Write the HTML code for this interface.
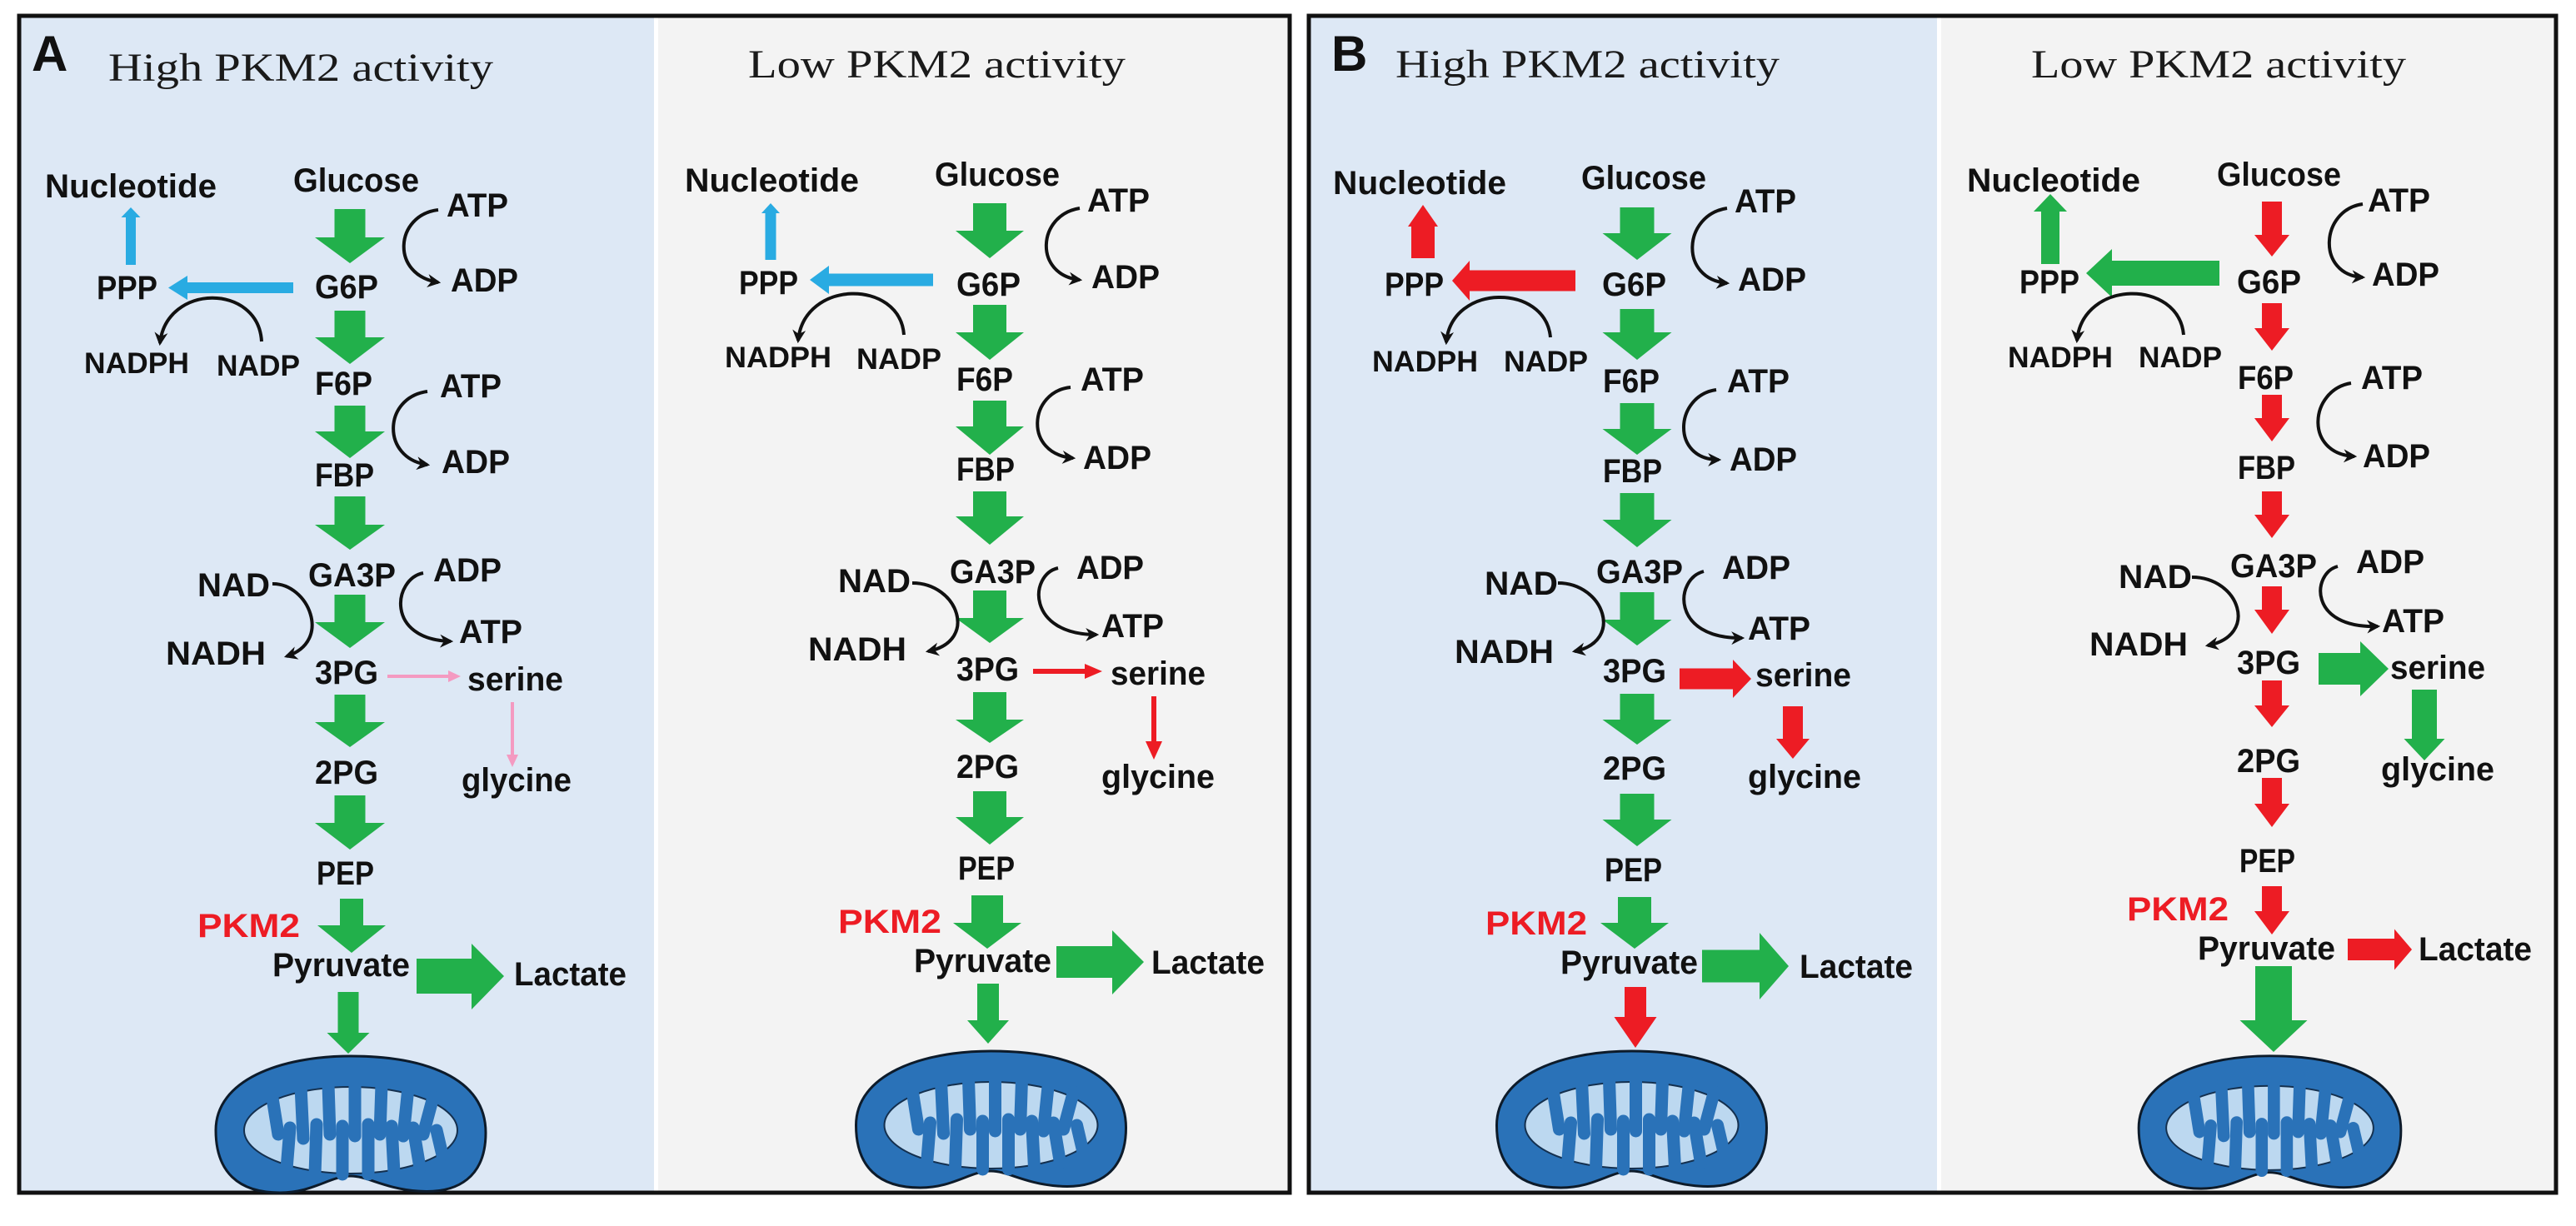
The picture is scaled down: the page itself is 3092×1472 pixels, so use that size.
<!DOCTYPE html>
<html><head><meta charset="utf-8"><style>html,body{margin:0;padding:0;background:#fff}svg{display:block}</style></head>
<body>
<svg xmlns="http://www.w3.org/2000/svg" width="3092" height="1472" viewBox="0 0 3092 1472">
<defs>
<marker id="ah" viewBox="0 0 10 10" refX="8" refY="5" markerWidth="4" markerHeight="4" orient="auto" markerUnits="strokeWidth"><path d="M0,0 L10,5 L0,10 L3,5 Z" fill="#111"/></marker>
<symbol id="mito" viewBox="0 0 330 175">
<path d="M3,95 C3,35 80,6 165,6 C250,6 327,30 327,98 C327,150 295,172 245,168 C205,165 185,150 165,150 C140,150 120,170 80,170 C30,170 3,145 3,95 Z" fill="#2a72b8" stroke="#0d1b2a" stroke-width="3"/>
<ellipse cx="165" cy="95" rx="128" ry="52" fill="#bcd8f0" stroke="#14304f" stroke-width="2"/>
<g stroke="#2a72b8" stroke-width="15" stroke-linecap="round">
<line x1="70" y1="50" x2="78" y2="100"/><line x1="105" y1="42" x2="108" y2="105"/><line x1="138" y1="40" x2="140" y2="100"/><line x1="170" y1="40" x2="170" y2="102"/><line x1="202" y1="40" x2="200" y2="100"/><line x1="234" y1="44" x2="228" y2="102"/><line x1="264" y1="55" x2="252" y2="100"/>
<line x1="88" y1="142" x2="92" y2="92"/><line x1="122" y1="148" x2="124" y2="88"/><line x1="155" y1="148" x2="155" y2="90"/><line x1="186" y1="148" x2="186" y2="88"/><line x1="217" y1="146" x2="214" y2="90"/><line x1="248" y1="140" x2="240" y2="92"/><line x1="275" y1="125" x2="268" y2="95"/>
</g>
</symbol>
</defs>

<rect x="25" y="21" width="760" height="1409" fill="#dde8f5"/>
<rect x="790" y="21" width="756" height="1409" fill="#f3f3f3"/>
<rect x="23" y="19" width="1525" height="1413" fill="none" stroke="#111" stroke-width="5"/>
<rect x="1573" y="21" width="752" height="1409" fill="#dde8f5"/>
<rect x="2330" y="21" width="736" height="1409" fill="#f3f3f3"/>
<rect x="1571" y="19" width="1497" height="1413" fill="none" stroke="#111" stroke-width="5"/>

<g font-family="Liberation Sans, Arial, sans-serif" font-weight="bold" fill="#111">
<text x="38" y="85" font-size="60">A</text>
<text x="1598" y="85" font-size="60">B</text>
</g>
<g font-family="Liberation Serif, serif" fill="#1a1a1a" font-size="48">
<text x="130" y="97" textLength="462" lengthAdjust="spacingAndGlyphs">High PKM2 activity</text>
<text x="898" y="93" textLength="453" lengthAdjust="spacingAndGlyphs">Low PKM2 activity</text>
<text x="1675" y="93" textLength="461" lengthAdjust="spacingAndGlyphs">High PKM2 activity</text>
<text x="2438" y="93" textLength="450" lengthAdjust="spacingAndGlyphs">Low PKM2 activity</text>
</g>

<use href="#mito" x="256" y="1262" width="330" height="175"/>
<use href="#mito" x="1023" y="1256" width="333" height="175"/>
<use href="#mito" x="1793" y="1256" width="331" height="175"/>
<use href="#mito" x="2559" y="1262" width="331" height="170"/>

<!-- A-left -->
<g fill="#22b04b">
<polygon points="401.5,251 438.5,251 438.5,285 462,285 420,316 378,285 401.5,285"/>
<polygon points="401.5,373 438.5,373 438.5,405 462,405 420,437 378,405 401.5,405"/>
<polygon points="401.5,487 438.5,487 438.5,518 462,518 420,550 378,518 401.5,518"/>
<polygon points="401.5,596 438.5,596 438.5,630 462,630 420,660 378,630 401.5,630"/>
<polygon points="401.5,714 438.5,714 438.5,747 462,747 420,778 378,747 401.5,747"/>
<polygon points="401.5,834 438.5,834 438.5,867 462,867 420,897 378,867 401.5,867"/>
<polygon points="401.5,955 438.5,955 438.5,988 462,988 420,1020 378,988 401.5,988"/>
<polygon points="408,1079 436,1079 436,1111 463,1111 422,1144 381,1111 408,1111"/>
<polygon points="405.5,1191 430.5,1191 430.5,1240 443.5,1240 418,1265 392.5,1240 405.5,1240"/>
<polygon points="500,1151 566,1151 566,1133 605,1172 566,1212 566,1193 500,1193"/>
</g>
<g fill="#29abe2">
<polygon points="352,339 225,339 225,331 202,345.5 225,360 225,352 352,352"/>
<polygon points="151,318 163,318 163,261 168.5,261 157,249 145.5,261 151,261"/>
</g>
<g stroke="#f49ac1" stroke-width="4" fill="#f49ac1">
<line x1="465" y1="812" x2="540" y2="812"/><polygon points="538,805 553,812 538,819" stroke="none"/>
<line x1="615" y1="843" x2="615" y2="908"/><polygon points="608,906 615,921 622,906" stroke="none"/>
</g>

<!-- A-right -->
<g fill="#22b04b">
<polygon points="1168,244 1208,244 1208,277 1229,277 1188,310 1147,277 1168,277"/>
<polygon points="1168,366 1208,366 1208,399 1229,399 1188,432 1147,399 1168,399"/>
<polygon points="1168,481 1208,481 1208,512 1229,512 1188,546 1147,512 1168,512"/>
<polygon points="1168,590 1208,590 1208,620 1229,620 1188,654 1147,620 1168,620"/>
<polygon points="1168,709 1208,709 1208,742 1229,742 1188,772 1147,742 1168,742"/>
<polygon points="1168,831 1208,831 1208,864 1229,864 1188,892 1147,864 1168,864"/>
<polygon points="1168,950 1208,950 1208,981 1229,981 1188,1014 1147,981 1168,981"/>
<polygon points="1166,1075 1204,1075 1204,1108 1226,1108 1185,1139 1144,1108 1166,1108"/>
<polygon points="1173,1181 1199,1181 1199,1225 1211,1225 1186,1253 1161,1225 1173,1225"/>
<polygon points="1268,1136 1335,1136 1335,1117 1373,1155 1335,1194 1335,1174 1268,1174"/>
</g>
<g fill="#29abe2">
<polygon points="1120,328.5 995,328.5 995,319 972,336 995,353 995,343.5 1120,343.5"/>
<polygon points="918.5,312 931.5,312 931.5,256 936,256 925,244 914,256 918.5,256"/>
</g>
<g fill="#ed1c24">
<polygon points="1240,803 1302,803 1302,797 1323,806 1302,815 1302,809 1240,809"/>
<polygon points="1382,836 1388,836 1388,890 1395,890 1385,912 1375,890 1382,890"/>
</g>

<!-- B-left -->
<g fill="#22b04b">
<polygon points="1944.5,249 1985.5,249 1985.5,280 2006.5,280 1965,312 1923.5,280 1944.5,280"/>
<polygon points="1944.5,371 1985.5,371 1985.5,399 2006.5,399 1965,432 1923.5,399 1944.5,399"/>
<polygon points="1944.5,484 1985.5,484 1985.5,515 2006.5,515 1965,546 1923.5,515 1944.5,515"/>
<polygon points="1944.5,592 1985.5,592 1985.5,624 2006.5,624 1965,657 1923.5,624 1944.5,624"/>
<polygon points="1944.5,711 1985.5,711 1985.5,744 2006.5,744 1965,775 1923.5,744 1944.5,744"/>
<polygon points="1944.5,833 1985.5,833 1985.5,864 2006.5,864 1965,894 1923.5,864 1944.5,864"/>
<polygon points="1944.5,953 1985.5,953 1985.5,984 2006.5,984 1965,1016 1923.5,984 1944.5,984"/>
<polygon points="1942,1077 1982,1077 1982,1108 2003,1108 1962,1139 1921,1108 1942,1108"/>
<polygon points="2043,1140.5 2112,1140.5 2112,1120 2147,1160 2112,1200 2112,1179.5 2043,1179.5"/>
</g>
<g fill="#ed1c24">
<polygon points="1891,324.5 1764,324.5 1764,313 1743,337 1764,361 1764,349.5 1891,349.5"/>
<polygon points="1694,310 1722,310 1722,272 1726,272 1708,246 1690,272 1694,272"/>
<polygon points="2016,802.5 2080,802.5 2080,792 2102,815 2080,838 2080,827.5 2016,827.5"/>
<polygon points="2140,848 2164,848 2164,887 2172,887 2152,911 2132,887 2140,887"/>
<polygon points="1950,1185 1976,1185 1976,1221 1988.5,1221 1963,1258 1937.5,1221 1950,1221"/>
</g>

<!-- B-right -->
<g fill="#ed1c24">
<polygon points="2715,242 2739,242 2739,282 2748,282 2727,308 2706,282 2715,282"/>
<polygon points="2715,364 2739,364 2739,394 2748,394 2727,421 2706,394 2715,394"/>
<polygon points="2715,474 2739,474 2739,502 2748,502 2727,530 2706,502 2715,502"/>
<polygon points="2715,590 2739,590 2739,618 2748,618 2727,646 2706,618 2715,618"/>
<polygon points="2715,704 2739,704 2739,732 2748,732 2727,761 2706,732 2715,732"/>
<polygon points="2715,817 2739,817 2739,847 2748,847 2727,873 2706,847 2715,847"/>
<polygon points="2715,934 2739,934 2739,965 2748,965 2727,993 2706,965 2715,965"/>
<polygon points="2715,1064 2739,1064 2739,1094 2748,1094 2727,1122 2706,1094 2715,1094"/>
<polygon points="2818,1127 2874,1127 2874,1115.5 2895,1140 2874,1164.5 2874,1153 2818,1153"/>
</g>
<g fill="#22b04b">
<polygon points="2664,313 2535,313 2535,299 2504,328 2535,357 2535,343 2664,343"/>
<polygon points="2450,317 2472,317 2472,254 2481,254 2461,233 2441,254 2450,254"/>
<polygon points="2783,784 2833,784 2833,770 2867,803 2833,836 2833,822 2783,822"/>
<polygon points="2895,828 2925,828 2925,887 2934.5,887 2910,913 2885.5,887 2895,887"/>
<polygon points="2707,1160 2751,1160 2751,1225 2769.5,1225 2729,1263 2688.5,1225 2707,1225"/>
</g>

<g fill="none" stroke="#111" stroke-width="4" marker-end="url(#ah)">
<path d="M526,252 C474,258 468,330 526,339"/>
<path d="M513,470 C460,477 457,550 513,558"/>
<path d="M508,688 C472,695 462,768 541,770"/>
<path d="M327,701 C370,700 400,770 344,788"/>
<path d="M314,410 C310,340 200,340 192,412"/>

<path d="M1296,250 C1245,258 1240,330 1296,336"/>
<path d="M1285,465 C1235,470 1228,545 1288,550"/>
<path d="M1270,682 C1235,690 1232,762 1316,762"/>
<path d="M1095,700 C1150,700 1175,770 1114,782"/>
<path d="M1085,402 C1080,335 965,335 958,409"/>

<path d="M2073,250 C2020,258 2015,335 2073,340"/>
<path d="M2060,468 C2010,475 2005,552 2063,552"/>
<path d="M2045,686 C2010,695 2005,767 2091,766"/>
<path d="M1870,700 C1925,700 1950,770 1890,782"/>
<path d="M1861,405 C1855,340 1742,340 1736,411"/>

<path d="M2836,245 C2785,252 2780,330 2836,333"/>
<path d="M2822,460 C2772,468 2765,545 2826,548"/>
<path d="M2806,680 C2775,688 2770,755 2854,752"/>
<path d="M2631,693 C2688,693 2712,763 2650,775"/>
<path d="M2621,402 C2615,335 2500,335 2493,409"/>
</g>

<g font-family="Liberation Sans, Arial, sans-serif" font-weight="bold" font-size="40" fill="#111">
<!-- A-left -->
<text x="54" y="237" textLength="206" lengthAdjust="spacingAndGlyphs">Nucleotide</text>
<text x="352" y="230" textLength="151" lengthAdjust="spacingAndGlyphs">Glucose</text>
<text x="536" y="260" textLength="74" lengthAdjust="spacingAndGlyphs">ATP</text>
<text x="541" y="350" textLength="81" lengthAdjust="spacingAndGlyphs">ADP</text>
<text x="378" y="358" textLength="76" lengthAdjust="spacingAndGlyphs">G6P</text>
<text x="116" y="359" textLength="73" lengthAdjust="spacingAndGlyphs">PPP</text>
<text x="101" y="448" font-size="35" textLength="126" lengthAdjust="spacingAndGlyphs">NADPH</text>
<text x="260" y="451" font-size="35" textLength="100" lengthAdjust="spacingAndGlyphs">NADP</text>
<text x="378" y="474" textLength="69" lengthAdjust="spacingAndGlyphs">F6P</text>
<text x="528" y="477" textLength="74" lengthAdjust="spacingAndGlyphs">ATP</text>
<text x="530" y="568" textLength="82" lengthAdjust="spacingAndGlyphs">ADP</text>
<text x="378" y="584" textLength="71" lengthAdjust="spacingAndGlyphs">FBP</text>
<text x="370" y="704" textLength="105" lengthAdjust="spacingAndGlyphs">GA3P</text>
<text x="237" y="716" textLength="87" lengthAdjust="spacingAndGlyphs">NAD</text>
<text x="520" y="698" textLength="82" lengthAdjust="spacingAndGlyphs">ADP</text>
<text x="551" y="772" textLength="76" lengthAdjust="spacingAndGlyphs">ATP</text>
<text x="199" y="798" textLength="120" lengthAdjust="spacingAndGlyphs">NADH</text>
<text x="378" y="821" textLength="76" lengthAdjust="spacingAndGlyphs">3PG</text>
<text x="561" y="829" textLength="115" lengthAdjust="spacingAndGlyphs">serine</text>
<text x="554" y="950" textLength="132" lengthAdjust="spacingAndGlyphs">glycine</text>
<text x="378" y="941" textLength="76" lengthAdjust="spacingAndGlyphs">2PG</text>
<text x="380" y="1062" textLength="69" lengthAdjust="spacingAndGlyphs">PEP</text>
<text x="237" y="1125" fill="#ed1c24" textLength="123" lengthAdjust="spacingAndGlyphs">PKM2</text>
<text x="327" y="1172" textLength="165" lengthAdjust="spacingAndGlyphs">Pyruvate</text>
<text x="617" y="1183" textLength="135" lengthAdjust="spacingAndGlyphs">Lactate</text>

<!-- A-right -->
<text x="822" y="230" textLength="209" lengthAdjust="spacingAndGlyphs">Nucleotide</text>
<text x="1122" y="223" textLength="150" lengthAdjust="spacingAndGlyphs">Glucose</text>
<text x="1305" y="254" textLength="75" lengthAdjust="spacingAndGlyphs">ATP</text>
<text x="1310" y="346" textLength="82" lengthAdjust="spacingAndGlyphs">ADP</text>
<text x="1148" y="355" textLength="77" lengthAdjust="spacingAndGlyphs">G6P</text>
<text x="887" y="353" textLength="71" lengthAdjust="spacingAndGlyphs">PPP</text>
<text x="870" y="441" font-size="35" textLength="128" lengthAdjust="spacingAndGlyphs">NADPH</text>
<text x="1028" y="443" font-size="35" textLength="102" lengthAdjust="spacingAndGlyphs">NADP</text>
<text x="1148" y="469" textLength="68" lengthAdjust="spacingAndGlyphs">F6P</text>
<text x="1297" y="469" textLength="76" lengthAdjust="spacingAndGlyphs">ATP</text>
<text x="1300" y="563" textLength="82" lengthAdjust="spacingAndGlyphs">ADP</text>
<text x="1148" y="577" textLength="70" lengthAdjust="spacingAndGlyphs">FBP</text>
<text x="1140" y="700" textLength="103" lengthAdjust="spacingAndGlyphs">GA3P</text>
<text x="1006" y="711" textLength="87" lengthAdjust="spacingAndGlyphs">NAD</text>
<text x="1292" y="695" textLength="81" lengthAdjust="spacingAndGlyphs">ADP</text>
<text x="1322" y="765" textLength="75" lengthAdjust="spacingAndGlyphs">ATP</text>
<text x="970" y="793" textLength="118" lengthAdjust="spacingAndGlyphs">NADH</text>
<text x="1148" y="817" textLength="75" lengthAdjust="spacingAndGlyphs">3PG</text>
<text x="1333" y="822" textLength="114" lengthAdjust="spacingAndGlyphs">serine</text>
<text x="1322" y="946" textLength="136" lengthAdjust="spacingAndGlyphs">glycine</text>
<text x="1148" y="934" textLength="75" lengthAdjust="spacingAndGlyphs">2PG</text>
<text x="1150" y="1056" textLength="68" lengthAdjust="spacingAndGlyphs">PEP</text>
<text x="1006" y="1120" fill="#ed1c24" textLength="124" lengthAdjust="spacingAndGlyphs">PKM2</text>
<text x="1097" y="1167" textLength="165" lengthAdjust="spacingAndGlyphs">Pyruvate</text>
<text x="1382" y="1169" textLength="136" lengthAdjust="spacingAndGlyphs">Lactate</text>

<!-- B-left -->
<text x="1600" y="233" textLength="208" lengthAdjust="spacingAndGlyphs">Nucleotide</text>
<text x="1898" y="227" textLength="150" lengthAdjust="spacingAndGlyphs">Glucose</text>
<text x="2082" y="255" textLength="74" lengthAdjust="spacingAndGlyphs">ATP</text>
<text x="2086" y="349" textLength="82" lengthAdjust="spacingAndGlyphs">ADP</text>
<text x="1923" y="355" textLength="77" lengthAdjust="spacingAndGlyphs">G6P</text>
<text x="1662" y="355" textLength="71" lengthAdjust="spacingAndGlyphs">PPP</text>
<text x="1647" y="446" font-size="35" textLength="127" lengthAdjust="spacingAndGlyphs">NADPH</text>
<text x="1805" y="446" font-size="35" textLength="101" lengthAdjust="spacingAndGlyphs">NADP</text>
<text x="1924" y="471" textLength="68" lengthAdjust="spacingAndGlyphs">F6P</text>
<text x="2073" y="471" textLength="75" lengthAdjust="spacingAndGlyphs">ATP</text>
<text x="2076" y="565" textLength="81" lengthAdjust="spacingAndGlyphs">ADP</text>
<text x="1924" y="579" textLength="71" lengthAdjust="spacingAndGlyphs">FBP</text>
<text x="1916" y="700" textLength="104" lengthAdjust="spacingAndGlyphs">GA3P</text>
<text x="1782" y="714" textLength="88" lengthAdjust="spacingAndGlyphs">NAD</text>
<text x="2067" y="695" textLength="82" lengthAdjust="spacingAndGlyphs">ADP</text>
<text x="2098" y="768" textLength="75" lengthAdjust="spacingAndGlyphs">ATP</text>
<text x="1746" y="796" textLength="119" lengthAdjust="spacingAndGlyphs">NADH</text>
<text x="1924" y="819" textLength="76" lengthAdjust="spacingAndGlyphs">3PG</text>
<text x="2107" y="824" textLength="115" lengthAdjust="spacingAndGlyphs">serine</text>
<text x="2098" y="946" textLength="136" lengthAdjust="spacingAndGlyphs">glycine</text>
<text x="1924" y="936" textLength="76" lengthAdjust="spacingAndGlyphs">2PG</text>
<text x="1926" y="1058" textLength="69" lengthAdjust="spacingAndGlyphs">PEP</text>
<text x="1783" y="1122" fill="#ed1c24" textLength="122" lengthAdjust="spacingAndGlyphs">PKM2</text>
<text x="1873" y="1169" textLength="165" lengthAdjust="spacingAndGlyphs">Pyruvate</text>
<text x="2160" y="1174" textLength="136" lengthAdjust="spacingAndGlyphs">Lactate</text>

<!-- B-right -->
<text x="2361" y="230" textLength="208" lengthAdjust="spacingAndGlyphs">Nucleotide</text>
<text x="2661" y="223" textLength="149" lengthAdjust="spacingAndGlyphs">Glucose</text>
<text x="2842" y="254" textLength="75" lengthAdjust="spacingAndGlyphs">ATP</text>
<text x="2847" y="343" textLength="81" lengthAdjust="spacingAndGlyphs">ADP</text>
<text x="2685" y="352" textLength="77" lengthAdjust="spacingAndGlyphs">G6P</text>
<text x="2424" y="352" textLength="72" lengthAdjust="spacingAndGlyphs">PPP</text>
<text x="2410" y="441" font-size="35" textLength="126" lengthAdjust="spacingAndGlyphs">NADPH</text>
<text x="2567" y="441" font-size="35" textLength="100" lengthAdjust="spacingAndGlyphs">NADP</text>
<text x="2686" y="467" textLength="67" lengthAdjust="spacingAndGlyphs">F6P</text>
<text x="2834" y="467" textLength="74" lengthAdjust="spacingAndGlyphs">ATP</text>
<text x="2836" y="561" textLength="81" lengthAdjust="spacingAndGlyphs">ADP</text>
<text x="2686" y="575" textLength="69" lengthAdjust="spacingAndGlyphs">FBP</text>
<text x="2677" y="693" textLength="104" lengthAdjust="spacingAndGlyphs">GA3P</text>
<text x="2543" y="706" textLength="88" lengthAdjust="spacingAndGlyphs">NAD</text>
<text x="2828" y="688" textLength="82" lengthAdjust="spacingAndGlyphs">ADP</text>
<text x="2859" y="759" textLength="75" lengthAdjust="spacingAndGlyphs">ATP</text>
<text x="2508" y="787" textLength="118" lengthAdjust="spacingAndGlyphs">NADH</text>
<text x="2685" y="809" textLength="76" lengthAdjust="spacingAndGlyphs">3PG</text>
<text x="2869" y="815" textLength="114" lengthAdjust="spacingAndGlyphs">serine</text>
<text x="2858" y="937" textLength="136" lengthAdjust="spacingAndGlyphs">glycine</text>
<text x="2685" y="927" textLength="76" lengthAdjust="spacingAndGlyphs">2PG</text>
<text x="2688" y="1047" textLength="67" lengthAdjust="spacingAndGlyphs">PEP</text>
<text x="2553" y="1105" fill="#ed1c24" textLength="122" lengthAdjust="spacingAndGlyphs">PKM2</text>
<text x="2638" y="1152" textLength="165" lengthAdjust="spacingAndGlyphs">Pyruvate</text>
<text x="2903" y="1153" textLength="136" lengthAdjust="spacingAndGlyphs">Lactate</text>
</g>
</svg>
</body></html>
